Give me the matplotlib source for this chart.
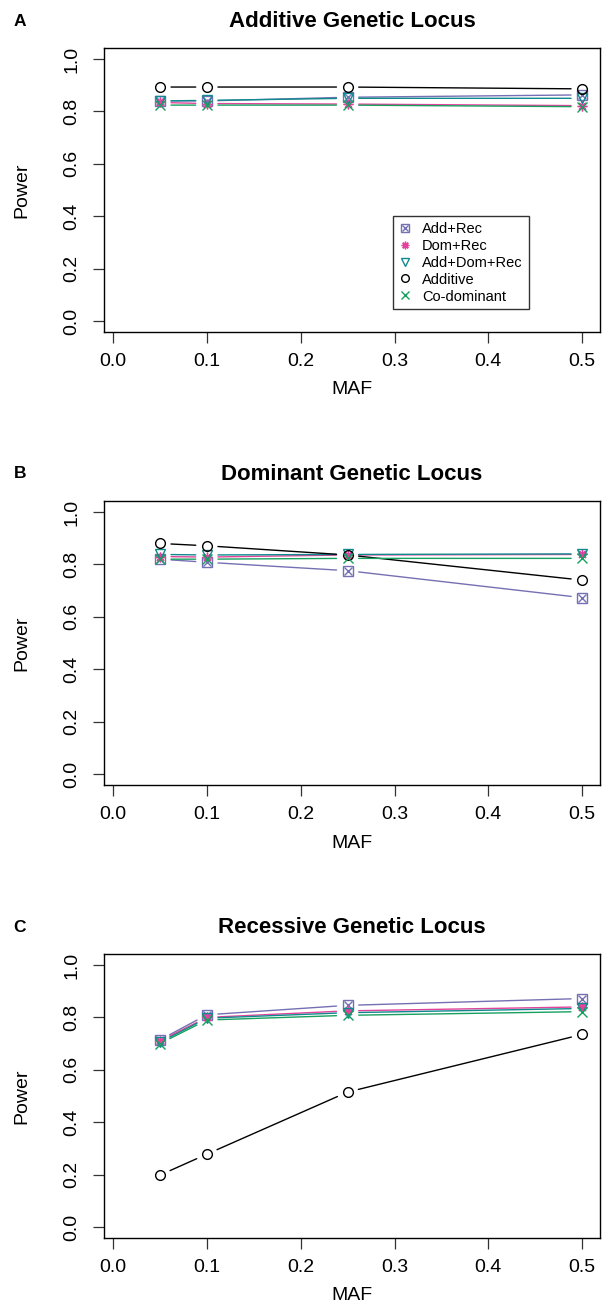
import matplotlib
matplotlib.use("Agg")
from matplotlib import pyplot as plt
from matplotlib.lines import Line2D

plt.rcParams['font.family'] = ['Liberation Sans', 'DejaVu Sans']

# data
maf = [0.05, 0.1, 0.25, 0.5]
models = ["Add+Rec", "Dom+Rec", "Add+Dom+Rec", "Additive", "Co-dominant"]
titles = ["Additive Genetic Locus", "Dominant Genetic Locus", "Recessive Genetic Locus"]
panel_tags = ["A", "B", "C"]

power_additive_locus = {
    "Add+Rec":     [0.840, 0.840, 0.854, 0.863],
    "Dom+Rec":     [0.834, 0.830, 0.828, 0.822],
    "Add+Dom+Rec": [0.840, 0.842, 0.850, 0.850],
    "Additive":    [0.893, 0.893, 0.893, 0.886],
    "Co-dominant": [0.824, 0.824, 0.824, 0.818],
}
power_dominant_locus = {
    "Add+Rec":     [0.820, 0.808, 0.776, 0.673],
    "Dom+Rec":     [0.830, 0.828, 0.836, 0.838],
    "Add+Dom+Rec": [0.838, 0.836, 0.838, 0.840],
    "Additive":    [0.880, 0.871, 0.836, 0.740],
    "Co-dominant": [0.820, 0.820, 0.823, 0.823],
}
power_recessive_locus = {
    "Add+Rec":     [0.714, 0.810, 0.846, 0.872],
    "Dom+Rec":     [0.710, 0.800, 0.825, 0.840],
    "Add+Dom+Rec": [0.705, 0.797, 0.818, 0.834],
    "Additive":    [0.198, 0.278, 0.515, 0.735],
    "Co-dominant": [0.700, 0.790, 0.808, 0.822],
}
panels = [power_additive_locus, power_dominant_locus, power_recessive_locus]

colors = {"Add+Rec": "#7570B3", "Dom+Rec": "#E2449B", "Add+Dom+Rec": "#108A8E",
          "Additive": "black", "Co-dominant": "#18A060"}
markers = {"Add+Rec": ["s", "x"], "Dom+Rec": [(8, 2, 0)], "Add+Dom+Rec": ["v"],
           "Additive": ["o"], "Co-dominant": ["x"]}

W, H = 606, 1309
fig = plt.figure(figsize=(W / 100, H / 100), dpi=100)
box_left, box_right = 104, 600
box_tops = [48, 501, 954]
box_h = 284

def put_marks(ax, x, y, name, ms):
    for m in markers[name]:
        size = ms * 0.78 if m == "x" and name == "Add+Rec" else ms
        ax.plot(x, y, linestyle="none", marker=m, ms=size, mfc="none",
                mec=colors[name], mew=1.0, zorder=3)

for i, data in enumerate(panels):
    top = box_tops[i]
    ax = fig.add_axes([box_left / W, 1 - (top + box_h) / H,
                       (box_right - box_left) / W, box_h / H])
    ax.set_xlim(-0.0096, 0.519)
    ax.set_ylim(-0.042, 1.042)
    for name in models:
        vals = data[name]
        # R type="b": segments with gaps around the points
        for k in range(len(maf) - 1):
            ax.annotate("", xy=(maf[k + 1], vals[k + 1]), xytext=(maf[k], vals[k]),
                        arrowprops=dict(arrowstyle="-", color=colors[name], lw=1.0,
                                        shrinkA=8, shrinkB=8))
        put_marks(ax, maf, vals, name, 7)
    ax.set_xticks([0.0, 0.1, 0.2, 0.3, 0.4, 0.5])
    ax.set_yticks([0.0, 0.2, 0.4, 0.6, 0.8, 1.0])
    ax.set_xticklabels(["0.0", "0.1", "0.2", "0.3", "0.4", "0.5"])
    ax.set_yticklabels(["0.0", "0.2", "0.4", "0.6", "0.8", "1.0"],
                       rotation=90, va="center")
    ax.tick_params(direction="out", length=8, width=0.9, labelsize=14, color="#333333")
    ax.tick_params(axis="x", pad=7)
    ax.tick_params(axis="y", pad=9)
    for s in ax.spines.values():
        s.set_linewidth(1.0)
    ax.set_title(titles[i], fontsize=16, fontweight="bold", pad=15)
    fig.text(20 / W, 1 - (top - 27) / H, panel_tags[i], fontsize=12.5,
             fontweight="bold", ha="center", va="center")
    fig.text(22 / W, 1 - (top + box_h / 2) / H, "Power", rotation=90,
             fontsize=14, ha="center", va="center")
    fig.text((box_left + box_right) / 2 / W, 1 - (top + box_h + 58) / H, "MAF",
             fontsize=14, ha="center", va="center")

    if i == 0:
        handles = []
        for name in models:
            parts = []
            for m in markers[name]:
                size = 5.5 * 0.78 if m == "x" and name == "Add+Rec" else 5.5
                parts.append(Line2D([], [], linestyle="none", marker=m, ms=size,
                                    mfc="none", mec=colors[name], mew=1.0))
            handles.append(tuple(parts))
        leg = ax.legend(handles, models, loc="upper left",
                        bbox_to_anchor=((393 - box_left) / 496, (box_tops[0] + box_h - 216) / box_h),
                        fontsize=10.5, frameon=True, fancybox=False, handlelength=0.8,
                        handletextpad=0.8, labelspacing=0.2, borderpad=0.4,
                        borderaxespad=0)
        leg.get_frame().set_edgecolor("black")
        leg.get_frame().set_linewidth(1.0)

fig.savefig("out.png", dpi=100)
